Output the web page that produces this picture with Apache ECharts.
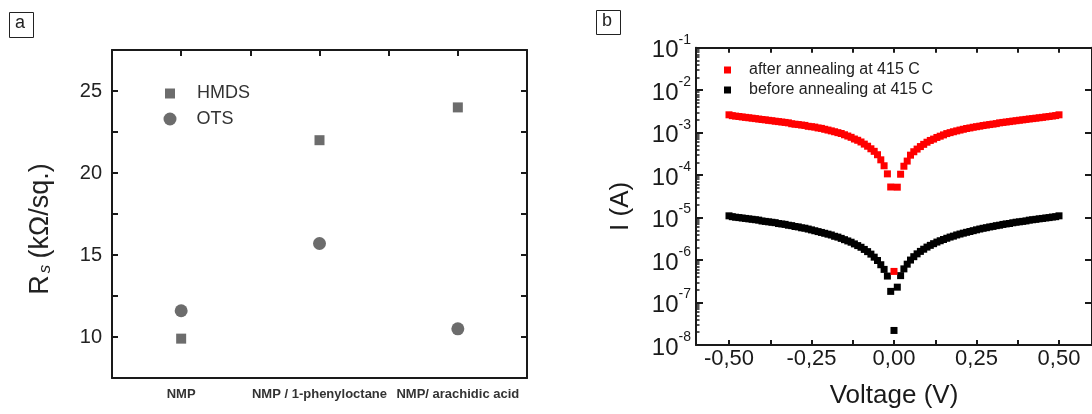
<!DOCTYPE html>
<html>
<head>
<meta charset="utf-8">
<script src="https://cdn.jsdelivr.net/npm/echarts@6/dist/echarts.min.js"></script>
<style>
html,body{margin:0;padding:0;background:#fff;}
#c{width:1092px;height:414px;}
</style>
</head>
<body>
<div id="c"></div>
<script>
// ---------- Panel a data ----------
const categoriesA = ['NMP', 'NMP / 1-phenyloctane', 'NMP/ arachidic acid'];
const hmdsValues = [9.9, 22.0, 24.0];
const otsValues = [11.6, 15.7, 10.5];
const yLabelTicksA = [10, 15, 20, 25];
const yMinorTicksA = [12.5, 17.5, 22.5];

// ---------- Panel b data ----------
const voltage = [
 -0.50,-0.49,-0.48,-0.47,-0.46,-0.45,-0.44,-0.43,-0.42,-0.41,
 -0.40,-0.39,-0.38,-0.37,-0.36,-0.35,-0.34,-0.33,-0.32,-0.31,
 -0.30,-0.29,-0.28,-0.27,-0.26,-0.25,-0.24,-0.23,-0.22,-0.21,
 -0.20,-0.19,-0.18,-0.17,-0.16,-0.15,-0.14,-0.13,-0.12,-0.11,
 -0.10,-0.09,-0.08,-0.07,-0.06,-0.05,-0.04,-0.03,-0.02,-0.01,
 0.00,
 0.01,0.02,0.03,0.04,0.05,0.06,0.07,0.08,0.09,0.10,
 0.11,0.12,0.13,0.14,0.15,0.16,0.17,0.18,0.19,0.20,
 0.21,0.22,0.23,0.24,0.25,0.26,0.27,0.28,0.29,0.30,
 0.31,0.32,0.33,0.34,0.35,0.36,0.37,0.38,0.39,0.40,
 0.41,0.42,0.43,0.44,0.45,0.46,0.47,0.48,0.49,0.50
];
const currentAfter = [
 2.63e-3,2.51e-3,2.45e-3,2.40e-3,2.34e-3,2.29e-3,2.24e-3,2.19e-3,2.14e-3,2.09e-3,
 2.04e-3,2.00e-3,1.95e-3,1.91e-3,1.86e-3,1.82e-3,1.78e-3,1.74e-3,1.70e-3,1.62e-3,
 1.58e-3,1.55e-3,1.51e-3,1.48e-3,1.41e-3,1.38e-3,1.35e-3,1.29e-3,1.26e-3,1.20e-3,
 1.15e-3,1.10e-3,1.05e-3,1.00e-3,9.55e-4,8.91e-4,8.32e-4,7.76e-4,7.08e-4,6.61e-4,
 6.03e-4,5.37e-4,4.79e-4,4.17e-4,3.63e-4,3.02e-4,2.29e-4,1.66e-4,1.07e-4,5.25e-5,
 5.4e-7,
 5.2e-5,1.05e-4,1.62e-4,2.14e-4,2.95e-4,3.55e-4,4.10e-4,4.70e-4,5.30e-4,5.95e-4,
 6.55e-4,7.05e-4,7.70e-4,8.25e-4,8.85e-4,9.50e-4,1.00e-3,1.05e-3,1.10e-3,1.15e-3,
 1.20e-3,1.25e-3,1.29e-3,1.34e-3,1.38e-3,1.42e-3,1.47e-3,1.51e-3,1.55e-3,1.59e-3,
 1.63e-3,1.70e-3,1.74e-3,1.78e-3,1.82e-3,1.87e-3,1.91e-3,1.96e-3,2.00e-3,2.05e-3,
 2.10e-3,2.14e-3,2.19e-3,2.24e-3,2.29e-3,2.35e-3,2.40e-3,2.46e-3,2.52e-3,2.63e-3
];
const currentBefore = [
 1.10e-5,1.05e-5,1.02e-5,1.00e-5,9.77e-6,9.55e-6,9.33e-6,9.12e-6,8.91e-6,8.71e-6,
 8.32e-6,8.13e-6,7.94e-6,7.76e-6,7.59e-6,7.24e-6,7.08e-6,6.92e-6,6.61e-6,6.46e-6,
 6.17e-6,6.03e-6,5.75e-6,5.62e-6,5.37e-6,5.13e-6,4.90e-6,4.68e-6,4.47e-6,4.27e-6,
 4.07e-6,3.89e-6,3.63e-6,3.47e-6,3.24e-6,3.02e-6,2.82e-6,2.63e-6,2.40e-6,2.19e-6,
 2.00e-6,1.78e-6,1.58e-6,1.38e-6,1.17e-6,9.77e-7,7.76e-7,6.03e-7,4.20e-7,1.83e-7,
 2.2e-8,
 2.3e-7,4.3e-7,6.2e-7,8.0e-7,1.00e-6,1.20e-6,1.40e-6,1.60e-6,1.80e-6,2.02e-6,
 2.22e-6,2.43e-6,2.65e-6,2.85e-6,3.05e-6,3.26e-6,3.48e-6,3.66e-6,3.90e-6,4.10e-6,
 4.30e-6,4.50e-6,4.70e-6,4.92e-6,5.15e-6,5.38e-6,5.60e-6,5.78e-6,6.02e-6,6.20e-6,
 6.45e-6,6.62e-6,6.90e-6,7.10e-6,7.25e-6,7.55e-6,7.78e-6,7.95e-6,8.15e-6,8.35e-6,
 8.70e-6,8.90e-6,9.10e-6,9.35e-6,9.55e-6,9.80e-6,1.00e-5,1.03e-5,1.05e-5,1.10e-5
];
const xTickValuesB = [-0.5, -0.25, 0, 0.25, 0.5];
const xTickLabelsB = ['-0,50', '-0,25', '0,00', '0,25', '0,50'];
const xMinorTicksB = [-0.375, -0.125, 0.125, 0.375];
const yDecadesB = [1e-8, 1e-7, 1e-6, 1e-5, 1e-4, 1e-3, 1e-2, 1e-1];
const yExponentsB = ['-8', '-7', '-6', '-5', '-4', '-3', '-2', '-1'];
const seriesNamesB = ['after annealing at 415 C', 'before annealing at 415 C'];

// ---------- helpers ----------
const FONT = "'Liberation Sans', Arial, Helvetica, sans-serif";
const GRAY = '#6c6c6c';
const lineStyle = { color: '#1a1a1a', width: 2 };
const axisLine = { onZero: false, lineStyle };

const yMinorLogB = [];
yDecadesB.slice(0, -1).forEach(d => { for (let k = 2; k <= 9; k++) yMinorLogB.push(+(k * d).toPrecision(3)); });

const chart = echarts.init(document.getElementById('c'), null, { renderer: 'canvas' });

const option = {
  animation: false,
  backgroundColor: '#fff',
  textStyle: { fontFamily: FONT },
  grid: [
    { left: 112, top: 50, width: 415, height: 328 },
    { left: 696, top: 47.7, width: 405, height: 299 }
  ],
  legend: [
    {
      data: [{ name: 'HMDS', icon: 'rect' }],
      left: 160, top: 79.5, padding: 5, itemWidth: 10, itemHeight: 10,
      textStyle: { fontSize: 18, color: '#333', fontFamily: FONT, padding: [0, 0, 0, 17] },
      selectedMode: false
    },
    {
      data: [{ name: 'OTS', icon: 'circle' }],
      left: 158.5, top: 105, padding: 5, itemWidth: 13, itemHeight: 13,
      textStyle: { fontSize: 18, color: '#333', fontFamily: FONT, padding: [0, 0, 0, 15] },
      selectedMode: false
    },
    {
      data: seriesNamesB.map(n => ({ name: n, icon: 'rect' })),
      orient: 'vertical', left: 719, top: 57, padding: 5, itemWidth: 7, itemHeight: 7, itemGap: 4,
      textStyle: { fontSize: 16, color: '#222', fontFamily: FONT, padding: [0, 0, 0, 13] },
      selectedMode: false
    }
  ],
  xAxis: [
    {
      type: 'category', gridIndex: 0, position: 'bottom', data: categoriesA, boundaryGap: true,
      axisLine, splitLine: { show: false },
      axisTick: { inside: true, alignWithLabel: true, length: 6, lineStyle },
      axisLabel: { interval: 0, hideOverlap: false, fontSize: 13, fontWeight: 'bold', color: '#333', margin: 10, fontFamily: FONT }
    },
    {
      type: 'value', gridIndex: 0, position: 'top', min: 0.5, max: 3.5,
      axisLine, splitLine: { show: false },
      axisTick: { inside: true, length: 6, lineStyle, customValues: [1, 1.5, 2, 2.5, 3] },
      axisLabel: { show: false }
    },
    {
      type: 'value', gridIndex: 1, position: 'bottom', min: -0.6, max: 0.6,
      axisLine, splitLine: { show: false },
      axisTick: { inside: true, length: 5, lineStyle, customValues: xTickValuesB.concat(xMinorTicksB) },
      axisLabel: {
        customValues: xTickValuesB, fontSize: 22, color: '#1a1a1a', margin: 3, fontFamily: FONT,
        formatter: v => xTickLabelsB[xTickValuesB.findIndex(t => Math.abs(t - v) < 1e-9)]
      },
      name: 'Voltage (V)', nameLocation: 'middle', nameGap: 38,
      nameTextStyle: { fontSize: 26, color: '#1a1a1a', fontFamily: FONT }
    },
    {
      type: 'value', gridIndex: 1, position: 'top', min: -0.6, max: 0.6,
      axisLine, splitLine: { show: false },
      axisTick: { inside: true, length: 5, lineStyle, customValues: xTickValuesB.concat(xMinorTicksB) },
      axisLabel: { show: false }
    }
  ],
  yAxis: [
    {
      type: 'value', gridIndex: 0, position: 'left', min: 7.5, max: 27.5,
      axisLine, splitLine: { show: false },
      axisTick: { inside: true, length: 6, lineStyle, customValues: yLabelTicksA.concat(yMinorTicksA) },
      axisLabel: { customValues: yLabelTicksA, fontSize: 20, color: '#222', margin: 10, fontFamily: FONT },
      name: '{r|R}{s|s} {r|(kΩ/sq.)}', nameLocation: 'middle', nameGap: 58, nameRotate: 90,
      nameTextStyle: {
        color: '#222', fontFamily: FONT, padding: [0, 30, 0, 0],
        rich: {
          r: { fontSize: 27, color: '#222', fontFamily: FONT },
          s: { fontSize: 17, fontStyle: 'italic', color: '#222', fontFamily: FONT, padding: [10, 3, 0, 2] }
        }
      }
    },
    {
      type: 'value', gridIndex: 0, position: 'right', min: 7.5, max: 27.5,
      axisLine, splitLine: { show: false },
      axisTick: { inside: true, length: 6, lineStyle, customValues: yLabelTicksA.concat(yMinorTicksA) },
      axisLabel: { show: false }
    },
    {
      type: 'log', logBase: 10, gridIndex: 1, position: 'left', min: 1e-8, max: 1e-1,
      axisLine, splitLine: { show: false },
      axisTick: { inside: true, length: 7, lineStyle, customValues: yDecadesB },
      axisLabel: {
        customValues: yDecadesB, margin: 5, color: '#1a1a1a', fontFamily: FONT,
        formatter: v => {
          const i = yDecadesB.findIndex(d => Math.abs(Math.log10(d) - Math.log10(v)) < 1e-6);
          return '{b|10}{e|' + yExponentsB[i] + '}';
        },
        rich: {
          b: { fontSize: 24, color: '#1a1a1a', fontFamily: FONT, padding: [6, 0, 0, 0] },
          e: { fontSize: 14, color: '#1a1a1a', fontFamily: FONT, verticalAlign: 'top', padding: [0, 0, 14, 0] }
        }
      },
      name: 'I (A)', nameLocation: 'middle', nameGap: 62, nameRotate: 90,
      nameTextStyle: { fontSize: 26, color: '#1a1a1a', fontFamily: FONT, padding: [0, 20, 0, 0] }
    },
    {
      type: 'log', logBase: 10, gridIndex: 1, position: 'left', min: 1e-8, max: 1e-1,
      axisLine: { show: false, onZero: false }, splitLine: { show: false },
      axisTick: { inside: true, length: 3.5, lineStyle: { color: '#1a1a1a', width: 1.5 }, customValues: yMinorLogB },
      axisLabel: { show: false }
    },
    {
      type: 'log', logBase: 10, gridIndex: 1, position: 'right', min: 1e-8, max: 1e-1,
      axisLine, splitLine: { show: false },
      axisTick: { inside: true, length: 7, lineStyle, customValues: yDecadesB },
      axisLabel: { show: false }
    }
  ],
  series: [
    {
      name: 'HMDS', type: 'scatter', xAxisIndex: 0, yAxisIndex: 0,
      symbol: 'rect', symbolSize: 10, itemStyle: { color: GRAY, opacity: 1 },
      data: hmdsValues.map((v, i) => [categoriesA[i], v])
    },
    {
      name: 'OTS', type: 'scatter', xAxisIndex: 0, yAxisIndex: 0,
      symbol: 'circle', symbolSize: 13, itemStyle: { color: GRAY, opacity: 1 },
      data: otsValues.map((v, i) => [categoriesA[i], v])
    },
    {
      name: seriesNamesB[1], type: 'scatter', xAxisIndex: 2, yAxisIndex: 2,
      symbol: 'rect', symbolSize: 7, itemStyle: { color: '#000', opacity: 1 },
      data: voltage.map((v, i) => [v, currentBefore[i]])
    },
    {
      name: seriesNamesB[0], type: 'scatter', xAxisIndex: 2, yAxisIndex: 2,
      symbol: 'rect', symbolSize: 7, itemStyle: { color: '#ff0000', opacity: 1 },
      data: voltage.map((v, i) => [v, currentAfter[i]])
    }
  ],
  graphic: [
    { type: 'rect', left: 9, top: 12, shape: { width: 24, height: 25 }, style: { fill: '#fff', stroke: '#222', lineWidth: 1 } },
    { type: 'text', left: 15, top: 14, style: { text: 'a', font: "18px 'Liberation Sans', Arial, sans-serif", fill: '#222' } },
    { type: 'rect', left: 596, top: 10, shape: { width: 24, height: 24 }, style: { fill: '#fff', stroke: '#222', lineWidth: 1 } },
    { type: 'text', left: 602, top: 12, style: { text: 'b', font: "18px 'Liberation Sans', Arial, sans-serif", fill: '#222' } }
  ]
};
chart.setOption(option);
</script>
</body>
</html>
